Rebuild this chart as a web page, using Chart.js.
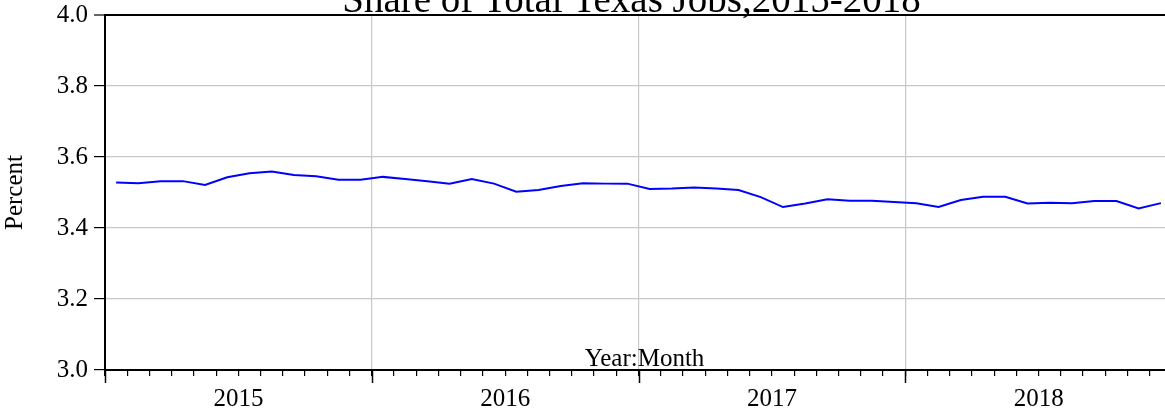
<!DOCTYPE html>
<html>
<head>
<meta charset="utf-8">
<script src="https://cdn.jsdelivr.net/npm/chart.js@4/dist/chart.umd.min.js"></script>
<style>
    html, body { margin: 0; padding: 0; background: #fff; overflow: hidden; }
    #wrap { width: 1180px; height: 422px; margin-top: -6px; }
</style>
</head>
<body>
<div id="wrap"><canvas id="jobsChart" width="1180" height="422"></canvas></div>
<script>
// Share of total Texas jobs, monthly, percent
const years = ['2015', '2016', '2017', '2018'];
const share2015 = [3.528, 3.526, 3.532, 3.532, 3.521, 3.543, 3.554, 3.559, 3.549, 3.546, 3.536, 3.536];
const share2016 = [3.544, 3.538, 3.532, 3.525, 3.538, 3.525, 3.502, 3.507, 3.518, 3.526, 3.525, 3.525];
const share2017 = [3.510, 3.511, 3.514, 3.511, 3.507, 3.487, 3.459, 3.469, 3.481, 3.477, 3.477, 3.473];
const share2018 = [3.470, 3.459, 3.479, 3.488, 3.488, 3.469, 3.471, 3.470, 3.476, 3.476, 3.455, 3.470];

const TITLE = 'Share of Total Texas Jobs,2015-2018';
const FONT = '"Liberation Serif", "Times New Roman", serif';
const GRID_GRAY = '#c8c8c8';

// month index -> x value centered inside the month slot
const allValues = [...share2015, ...share2016, ...share2017, ...share2018];
const points = allValues.map((v, i) => ({ x: i + 0.5, y: v }));

/**
 * Title, inner axis caption and the long year-boundary ticks
 */
const decorations = {
    id: 'decorations',
    afterDraw(chart) {
        const { ctx, chartArea, scales } = chart;
        const mid = (chartArea.left + chartArea.right) / 2;
        ctx.save();
        ctx.fillStyle = '#000';
        ctx.textAlign = 'center';
        ctx.textBaseline = 'alphabetic';
        ctx.font = '39px ' + FONT;
        ctx.fillText(TITLE, mid - 7, chartArea.top - 3);
        ctx.font = '25px ' + FONT;
        ctx.fillText('Year:Month', mid + 6, chartArea.bottom - 4);

        ctx.strokeStyle = '#000';
        ctx.lineWidth = 1.5;
        for (let i = 0; i <= years.length; i++) {
            const px = Math.round(scales.x.getPixelForValue(i * 12)) + 0.5;
            ctx.beginPath();
            ctx.moveTo(px, chartArea.bottom);
            ctx.lineTo(px, chartArea.bottom + 13);
            ctx.stroke();
        }
        ctx.restore();
    }
};

const ctx = document.getElementById('jobsChart').getContext('2d');

new Chart(ctx, {
    type: 'line',
    data: {
        datasets: [{
            data: points,
            borderColor: '#0000ff',
            borderWidth: 2,
            pointRadius: 0,
            tension: 0,
            fill: false
        }]
    },
    options: {
        responsive: false,
        animation: false,
        layout: { padding: { top: 9, left: 0, right: 0, bottom: 0 } },
        plugins: {
            legend: { display: false },
            tooltip: { enabled: false },
            title: { display: false }
        },
        scales: {
            x: {
                type: 'linear',
                min: 0,
                max: 48,
                afterFit: (scale) => { scale.height = 46; },
                border: { display: true, color: '#000', width: 2 },
                grid: {
                    drawOnChartArea: true,
                    color: (c) => (c.tick && c.tick.value % 12 === 0 && c.tick.value > 0) ? GRID_GRAY : 'rgba(0,0,0,0)',
                    lineWidth: 1.2,
                    tickColor: '#000',
                    tickLength: 6,
                    tickWidth: 1.2
                },
                ticks: {
                    stepSize: 1,
                    autoSkip: false,
                    maxRotation: 0,
                    padding: 8,
                    color: '#000',
                    font: { family: FONT, size: 25 },
                    callback: (v) => (v % 12 === 6 ? years[Math.floor(v / 12)] : '')
                }
            },
            y: {
                min: 3.0,
                max: 4.0,
                afterFit: (scale) => { scale.width = 105; },
                border: { display: true, color: '#000', width: 2 },
                grid: {
                    color: (c) => (c.tick && c.tick.value >= 4) ? '#000' : GRID_GRAY,
                    lineWidth: (c) => (c.tick && c.tick.value >= 4) ? 2 : 1.2,
                    tickColor: '#000',
                    tickLength: 11,
                    tickWidth: 1.2
                },
                ticks: {
                    stepSize: 0.2,
                    padding: 6,
                    color: '#000',
                    font: { family: FONT, size: 25 },
                    callback: (v) => v.toFixed(1)
                },
                title: {
                    display: true,
                    text: 'Percent',
                    color: '#000',
                    font: { family: FONT, size: 25 },
                    padding: { top: 0, bottom: 2 }
                }
            }
        }
    },
    plugins: [decorations]
});
</script>
</body>
</html>
